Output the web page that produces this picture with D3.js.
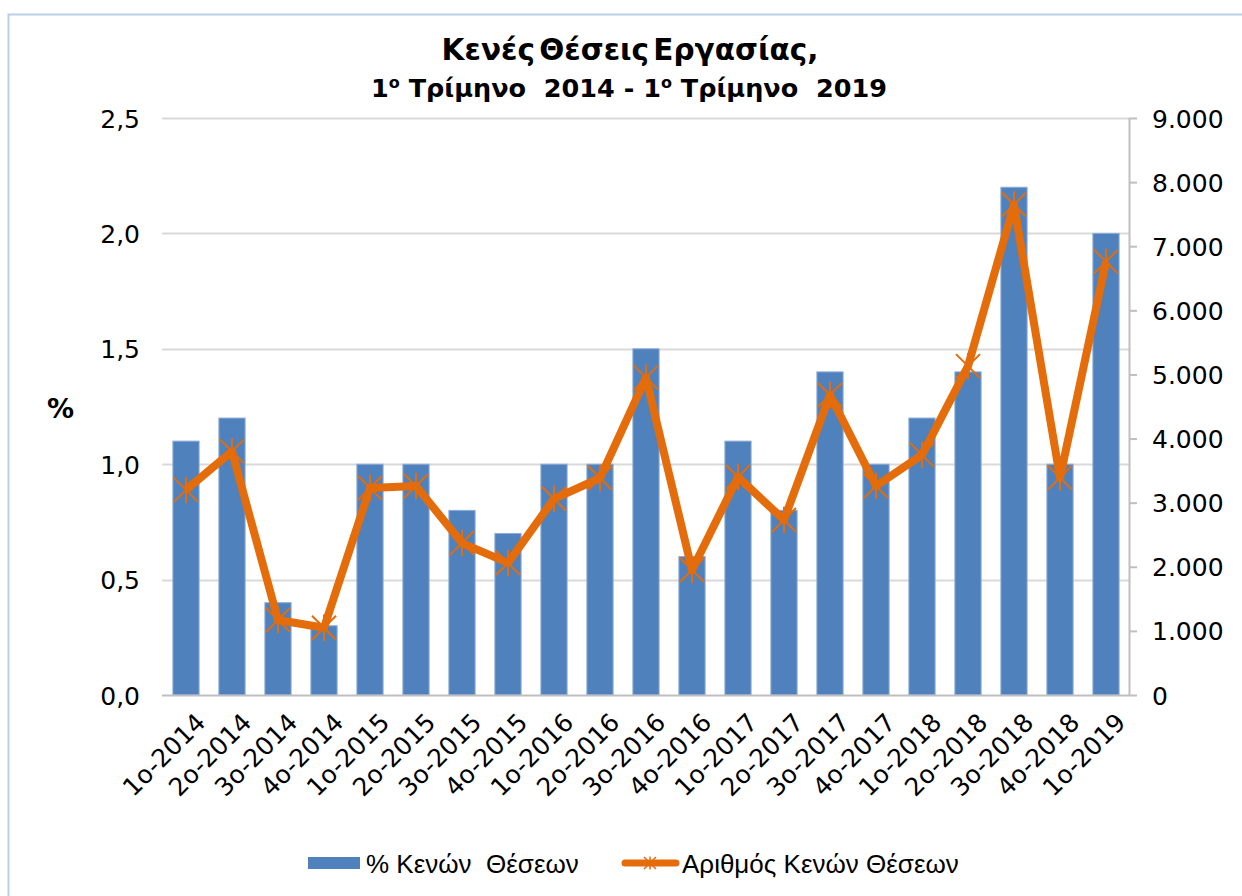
<!DOCTYPE html>
<html>
<head>
<meta charset="utf-8">
<script src="https://cdn.jsdelivr.net/npm/d3@7"></script>
<style>
  body { margin: 0; background: #fff; }
  svg { display: block; }
  .tick text { font-family: "DejaVu Sans", Verdana, sans-serif; fill: #000; }
</style>
</head>
<body>
<div class="chart"></div>
<script>
// === Data ===
const quarters = ["1o-2014","2o-2014","3o-2014","4o-2014","1o-2015","2o-2015","3o-2015","4o-2015",
                  "1o-2016","2o-2016","3o-2016","4o-2016","1o-2017","2o-2017","3o-2017","4o-2017",
                  "1o-2018","2o-2018","3o-2018","4o-2018","1o-2019"];
const vacancyRate = [1.1, 1.2, 0.4, 0.3, 1.0, 1.0, 0.8, 0.7, 1.0, 1.0, 1.5, 0.6, 1.1, 0.8, 1.4, 1.0,
                     1.2, 1.4, 2.2, 1.0, 2.0];
const vacancyCount = [3200, 3800, 1170, 1050, 3230, 3260, 2370, 2060, 3060, 3385, 4950, 1950, 3400, 2730,
                      4680, 3260, 3745, 5130, 7650, 3390, 6760];
const leftTicks = [0, 0.5, 1.0, 1.5, 2.0, 2.5];
const rightTicks = [0, 1000, 2000, 3000, 4000, 5000, 6000, 7000, 8000, 9000];

const barColor = "#4F81BD",
      lineColor = "#E46C0A";

// === Size ===
const width = 1242, height = 896;
const plot = {left: 163, right: 1129, top: 118, bottom: 695};

const svg = d3.select(".chart").append("svg")
    .attr("width", width)
    .attr("height", height);

// chart border
svg.append("rect")
    .attr("x", 8.5).attr("y", 14.5)
    .attr("width", 1250).attr("height", 900)
    .attr("fill", "none")
    .attr("stroke", "#BCCFE8")
    .attr("stroke-width", 2);

// === Locale (greek number format) ===
const locale = d3.formatLocale({decimal: ",", thousands: ".", grouping: [3], currency: ["", ""]});

// === Scales ===
const xScale = d3.scaleBand()
    .domain(quarters)
    .range([plot.left, plot.right])
    .paddingInner(0.43)
    .paddingOuter(0.215);

const yLeft = d3.scaleLinear().domain([0, 2.5]).range([plot.bottom, plot.top]);
const yRight = d3.scaleLinear().domain([0, 9000]).range([plot.bottom, plot.top]);

// === Gridlines ===
svg.append("g")
    .selectAll("line")
    .data(leftTicks.filter(d => d > 0))
    .join("line")
    .attr("x1", plot.left - 1).attr("x2", plot.right)
    .attr("y1", d => Math.round(yLeft(d)) + 0.5)
    .attr("y2", d => Math.round(yLeft(d)) + 0.5)
    .attr("stroke", "#D9D9D9")
    .attr("stroke-width", 2);

// === Left axis ===
const leftAxis = svg.append("g")
    .attr("transform", `translate(${plot.left - 1},0)`)
    .call(d3.axisLeft(yLeft).tickValues(leftTicks).tickSize(0).tickPadding(22)
        .tickFormat(locale.format(".1f")));
leftAxis.select(".domain").remove();
leftAxis.selectAll("text").attr("font-size", 25).attr("dy", "0.36em");

// === Right axis ===
const rightAxis = svg.append("g")
    .attr("transform", `translate(${plot.right},0)`)
    .call(d3.axisRight(yRight).tickValues(rightTicks).tickSize(8).tickPadding(15)
        .tickFormat(locale.format(",d")));
rightAxis.select(".domain").attr("stroke", "#BFBFBF").attr("stroke-width", 2)
    .attr("d", `M0.5,${plot.top}V${plot.bottom}`);
rightAxis.selectAll(".tick line").attr("stroke", "#BFBFBF").attr("stroke-width", 2);
rightAxis.selectAll("text").attr("font-size", 25).attr("dy", "0.36em");

// === Bars ===
svg.append("g")
    .selectAll("rect")
    .data(quarters)
    .join("rect")
    .attr("x", d => xScale(d))
    .attr("y", (d, i) => yLeft(vacancyRate[i]))
    .attr("width", xScale.bandwidth())
    .attr("height", (d, i) => plot.bottom - yLeft(vacancyRate[i]))
    .attr("fill", barColor)
    .attr("stroke", "#8FADD8")
    .attr("stroke-width", 1);

// === Bottom axis ===
const xAxis = svg.append("g")
    .attr("transform", `translate(0,${plot.bottom})`)
    .call(d3.axisBottom(xScale).tickSize(0));
xAxis.select(".domain").attr("stroke", "#BFBFBF").attr("stroke-width", 2)
    .attr("d", `M${plot.left - 1},0.5H${plot.right}`);
xAxis.selectAll("text")
    .attr("font-size", 25)
    .attr("text-anchor", "end")
    .attr("y", 0).attr("dy", 0)
    .attr("transform", "translate(21,29) rotate(-45)");

// === Line ===
const line = d3.line()
    .x(d => xScale(d) + xScale.bandwidth() / 2)
    .y((d, i) => yRight(vacancyCount[i]));

svg.append("path")
    .datum(quarters)
    .attr("d", line)
    .attr("fill", "none")
    .attr("stroke", lineColor)
    .attr("stroke-width", 8)
    .attr("stroke-linejoin", "round");

const starPath = s => `M${-s},${-s}L${s},${s}M${-s},${s}L${s},${-s}M0,${-s * 1.1}L0,${s * 1.1}`;

svg.append("g")
    .selectAll("path")
    .data(quarters)
    .join("path")
    .attr("transform", (d, i) => `translate(${xScale(d) + xScale.bandwidth() / 2},${yRight(vacancyCount[i])})`)
    .attr("d", starPath(12))
    .attr("stroke", lineColor)
    .attr("stroke-width", 2)
    .attr("fill", "none");

// === Title ===
const title = svg.append("text")
    .attr("text-anchor", "middle")
    .attr("font-family", "'DejaVu Sans', Verdana, sans-serif")
    .attr("font-weight", "bold")
    .attr("xml:space", "preserve");
title.append("tspan")
    .attr("x", 630).attr("y", 60)
    .attr("font-size", 29.5)
    .attr("word-spacing", -6)
    .text("Κενές Θέσεις Εργασίας,");
const sub = title.append("tspan").attr("x", 629).attr("y", 97).attr("font-size", 25.5);
sub.append("tspan").text("1");
sub.append("tspan").attr("font-size", 16).attr("dy", -9).text("ο");
sub.append("tspan").attr("dy", 9).text(" Τρίμηνο  2014 - 1");
sub.append("tspan").attr("font-size", 16).attr("dy", -9).text("ο");
sub.append("tspan").attr("dy", 9).text(" Τρίμηνο  2019");

// "%" axis label
svg.append("text")
    .attr("x", 47).attr("y", 418)
    .attr("font-family", "'DejaVu Sans', Verdana, sans-serif")
    .attr("font-weight", "bold")
    .attr("font-size", 27)
    .text("%");

// === Legend ===
const legend = svg.append("g")
    .attr("font-family", "'Liberation Sans', Arial, sans-serif")
    .attr("font-size", 26);

legend.append("rect")
    .attr("x", 308).attr("y", 857)
    .attr("width", 52).attr("height", 12)
    .attr("fill", barColor);
legend.append("text")
    .attr("x", 366).attr("y", 873)
    .attr("xml:space", "preserve")
    .text("% Κενών  Θέσεων");

legend.append("line")
    .attr("x1", 625).attr("x2", 676)
    .attr("y1", 863).attr("y2", 863)
    .attr("stroke", lineColor)
    .attr("stroke-width", 7)
    .attr("stroke-linecap", "round");
legend.append("path")
    .attr("transform", "translate(650,863)")
    .attr("d", starPath(6))
    .attr("stroke", lineColor)
    .attr("stroke-width", 1.5);
legend.append("text")
    .attr("x", 682).attr("y", 873)
    .text("Αριθμός Κενών Θέσεων");
</script>
</body>
</html>
